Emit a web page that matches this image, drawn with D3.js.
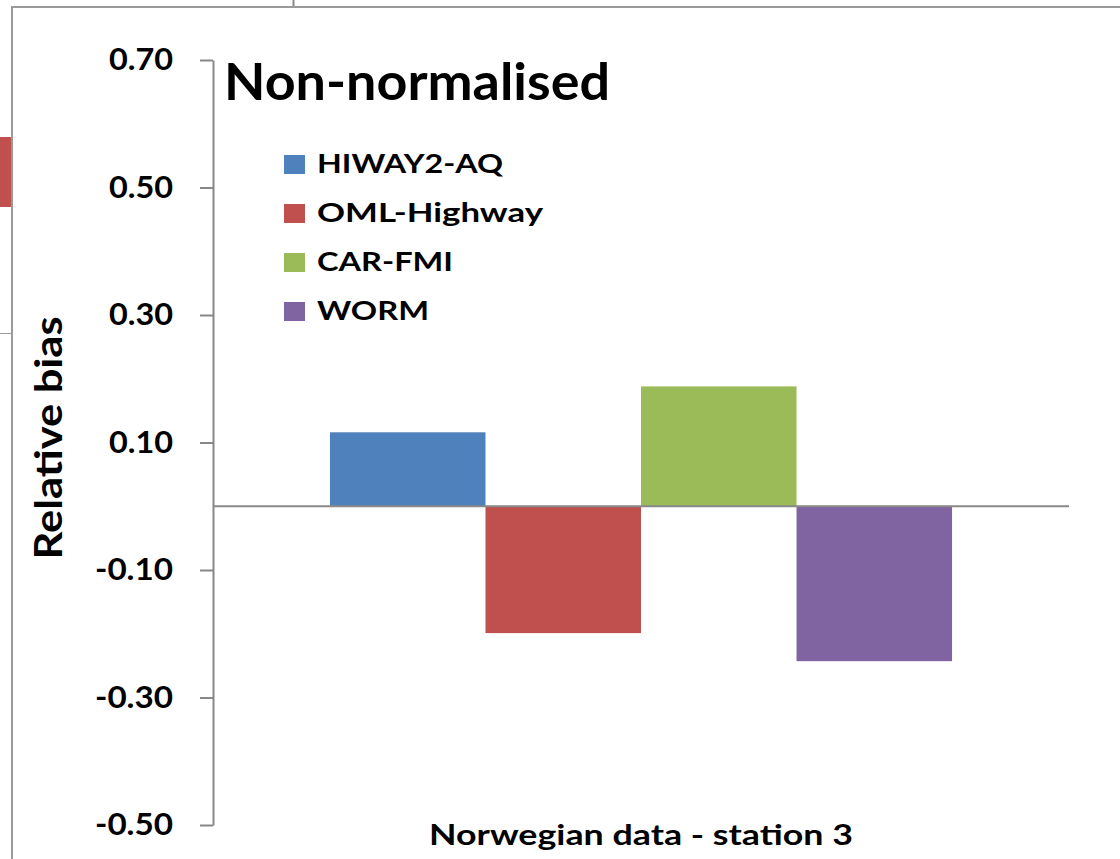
<!DOCTYPE html>
<html>
<head>
<meta charset="utf-8">
<script src="https://cdn.jsdelivr.net/npm/d3@7"></script>
<style>
  body { margin: 0; background: #fff; }
  svg { display: block; font-family: Lato, "Open Sans", sans-serif; }
</style>
</head>
<body>
<div id="chart"></div>
<script>
var categories = ["Norwegian data - station 3"];
var seriesNames = ["HIWAY2-AQ", "OML-Highway", "CAR-FMI", "WORM"];
var seriesValues = [0.116, -0.199, 0.188, -0.243];
var seriesColors = ["#4F81BD", "#C0504D", "#9BBB59", "#8064A2"];
var yTickValues = [-0.5, -0.3, -0.1, 0.1, 0.3, 0.5, 0.7];

// measured label widths in the reference (text looks horizontally stretched)
var legendWidths = [186, 226, 136, 112];

var width = 1120, height = 859;
var plot = {left: 213, right: 1069, top: 60, bottom: 825};

var svg = d3.select("#chart")
	.append("svg")
	.attr("width", width)
	.attr("height", height);

svg.append("rect")
	.attr("width", width).attr("height", height)
	.attr("fill", "#fff");

// bits of the surrounding sheet / chart frame
svg.append("rect")
	.attr("x", 0).attr("y", 137).attr("width", 11).attr("height", 70)
	.attr("fill", "#C0504D");
svg.append("line")
	.attr("x1", 0).attr("x2", 11).attr("y1", 333.5).attr("y2", 333.5)
	.attr("stroke", "#9a9a9a").attr("stroke-width", 1);
svg.append("line")
	.attr("x1", 293.5).attr("x2", 293.5).attr("y1", 0).attr("y2", 6)
	.attr("stroke", "#888").attr("stroke-width", 2);
svg.append("path")
	.attr("d", "M12,870V7H1130")
	.attr("fill", "none")
	.attr("stroke", "#9a9a9a")
	.attr("stroke-width", 2);

var x0 = d3.scaleBand()
	.domain(categories)
	.range([plot.left, plot.right])
	.paddingInner(0)
	.paddingOuter(0.188);

var x1 = d3.scaleBand()
	.domain(seriesNames)
	.range([0, x0.bandwidth()]);

var y = d3.scaleLinear()
	.domain([-0.5, 0.7])
	.range([plot.bottom, plot.top]);

var bars = seriesNames.map(function(name, i) {
	return {cat: categories[0], name: name, value: seriesValues[i], color: seriesColors[i]};
});

svg.append("g")
	.selectAll("rect")
	.data(bars)
	.enter()
	.append("rect")
	.attr("x", function(d) { return x0(d.cat) + x1(d.name); })
	.attr("width", x1.bandwidth())
	.attr("y", function(d) { return y(Math.max(0, d.value)); })
	.attr("height", function(d) { return Math.abs(y(d.value) - y(0)); })
	.attr("fill", function(d) { return d.color; });

// zero line
svg.append("line")
	.attr("x1", plot.left).attr("x2", plot.right)
	.attr("y1", y(0)).attr("y2", y(0))
	.attr("stroke", "#888").attr("stroke-width", 2);

var yAxis = d3.axisLeft(y)
	.tickValues(yTickValues)
	.tickFormat(function(d) { return d.toFixed(2); })
	.tickSizeInner(13)
	.tickSizeOuter(0)
	.tickPadding(27);

var gy = svg.append("g")
	.attr("transform", "translate(" + plot.left + ",0)")
	.call(yAxis);
gy.select(".domain").attr("stroke", "#888").attr("stroke-width", 2);
gy.selectAll(".tick line").attr("stroke", "#888").attr("stroke-width", 2);
gy.selectAll(".tick text")
	.attr("fill", "#000")
	.attr("textLength", function(d) { return d < 0 ? 78 : 64; })
	.attr("lengthAdjust", "spacingAndGlyphs")
	.style("font-family", "Lato, sans-serif")
	.style("font-size", "30px")
	.style("font-weight", "bold");

var xAxis = d3.axisBottom(x0)
	.tickSize(0)
	.tickPadding(0);

var gx = svg.append("g")
	.attr("transform", "translate(0," + plot.bottom + ")")
	.call(xAxis);
gx.select(".domain").remove();
gx.selectAll(".tick text")
	.attr("fill", "#000")
	.attr("textLength", 424)
	.attr("lengthAdjust", "spacingAndGlyphs")
	.style("font-family", "Lato, sans-serif")
	.style("font-size", "28px")
	.style("font-weight", "bold");

// y title
svg.append("text")
	.attr("transform", "translate(62,438) rotate(-90)")
	.attr("text-anchor", "middle")
	.attr("textLength", 243)
	.attr("lengthAdjust", "spacingAndGlyphs")
	.style("font-size", "38px")
	.style("font-weight", "bold")
	.text("Relative bias");

// chart title
svg.append("text")
	.attr("x", 224).attr("y", 100)
	.attr("textLength", 386)
	.attr("lengthAdjust", "spacingAndGlyphs")
	.style("font-size", "52px")
	.style("font-weight", "bold")
	.text("Non-normalised");

// legend
var legend = svg.append("g")
	.attr("transform", "translate(284,155)");
var items = legend.selectAll("g")
	.data(seriesNames)
	.enter()
	.append("g")
	.attr("transform", function(d, i) { return "translate(0," + (i * 49) + ")"; });
items.append("rect")
	.attr("width", 21).attr("height", 19)
	.attr("fill", function(d, i) { return seriesColors[i]; });
items.append("text")
	.attr("x", 33).attr("y", 18)
	.attr("textLength", function(d, i) { return legendWidths[i]; })
	.attr("lengthAdjust", "spacingAndGlyphs")
	.style("font-size", "26px")
	.style("font-weight", "bold")
	.text(function(d) { return d; });
</script>
</body>
</html>
